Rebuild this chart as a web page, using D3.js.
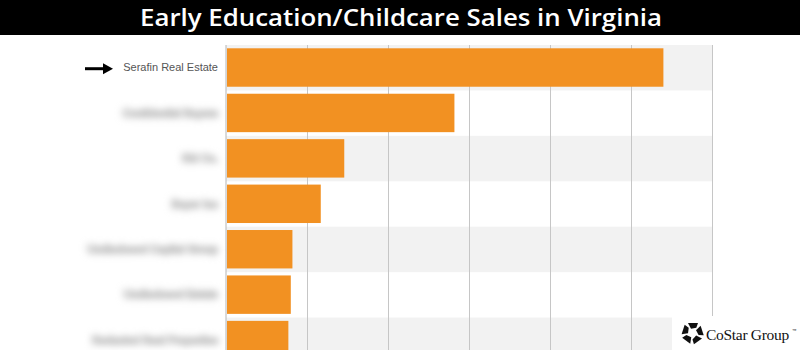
<!DOCTYPE html>
<html>
<head>
<meta charset="utf-8">
<script src="https://cdn.jsdelivr.net/npm/d3@7"></script>
<style>
  html, body { margin: 0; padding: 0; background: #fff; }
  svg { display: block; }
</style>
</head>
<body>
<svg id="chart" width="800" height="350"></svg>
<script>
const title = "Early Education/Childcare Sales in Virginia";
const categories = [
  "Serafin Real Estate",
  "Confidential Buyers",
  "Kid Co.",
  "Buyer Inc",
  "Undisclosed Capital Group",
  "Undisclosed Estate",
  "Redacted Real Properties"
];
const blurred = [false, true, true, true, true, true, true];
const values = [27.0, 14.1, 7.3, 5.85, 4.1, 4.0, 3.85];
const xTicks = [0, 5, 10, 15, 20, 25, 30];
const brand = "CoStar Group";

(function () {
const svg = d3.select("#chart");
const W = 800, H = 350;
const mLeft = 226, mRight = 712, mTop = 45, mBottom = 363;

const defs = svg.append("defs");
defs.append("filter").attr("id", "blur").attr("filterUnits", "userSpaceOnUse")
  .attr("x", -1000).attr("y", -1000).attr("width", 2000).attr("height", 2000)
  .append("feGaussianBlur").attr("stdDeviation", 3.5);

const x = d3.scaleLinear().domain([0, 30]).range([mLeft, mRight]);
const y = d3.scaleBand().domain(categories).range([mTop, mBottom]).padding(0);
const step = y.bandwidth();

// alternating background bands
svg.append("g").selectAll("rect").data(categories.filter((d, i) => i % 2 === 0)).join("rect")
  .attr("x", mLeft).attr("y", d => y(d)).attr("width", mRight - mLeft).attr("height", step)
  .attr("fill", "#f2f2f2");

// gridlines
const grid = svg.append("g").attr("transform", `translate(0,${mTop})`)
  .call(d3.axisTop(x).tickValues(xTicks.slice(1)).tickSize(-(H - mTop)).tickFormat(""));
grid.select(".domain").remove();
grid.selectAll(".tick line").attr("stroke", "#c6c6c6").attr("stroke-width", 1);

// bars
const barPad = 3.3, barH = step - 7;
svg.append("g").selectAll("rect").data(categories).join("rect")
  .attr("x", x(0) + 1).attr("y", d => y(d) + barPad)
  .attr("width", (d, i) => x(values[i]) - x(0) - 1)
  .attr("height", barH)
  .attr("fill", "#f29122");

// y axis
const yAxis = svg.append("g").attr("transform", `translate(${mLeft},0)`)
  .call(d3.axisLeft(y).tickSize(0).tickPadding(8));
yAxis.select(".domain").attr("stroke", "#b5b5b5").attr("d", `M0,${mTop}V${H}`);
yAxis.selectAll(".tick text")
  .attr("font-family", "Liberation Sans, Arial, sans-serif")
  .attr("font-size", 11)
  .attr("fill", (d, i) => blurred[i] ? "#c4c4c4" : "#555")
  .attr("stroke", (d, i) => blurred[i] ? "#c4c4c4" : null)
  .attr("stroke-width", (d, i) => blurred[i] ? 2 : null)
  .attr("filter", (d, i) => blurred[i] ? "url(#blur)" : null);

// arrow pointing to first label
const ay = y(categories[0]) + step / 2 + 1;
svg.append("line").attr("x1", 85).attr("x2", 106).attr("y1", ay).attr("y2", ay)
  .attr("stroke", "#000").attr("stroke-width", 3);
svg.append("path").attr("d", `M103,${ay - 5.5}L113,${ay}L103,${ay + 5.5}Z`).attr("fill", "#000");

// title bar
svg.append("rect").attr("x", 0).attr("y", 0).attr("width", W).attr("height", 35).attr("fill", "#000");
svg.append("text").attr("x", W / 2 + 1).attr("y", 26).attr("text-anchor", "middle")
  .attr("font-family", "Open Sans, sans-serif").attr("font-weight", 600).attr("font-size", 23)
  .attr("textLength", 522).attr("lengthAdjust", "spacingAndGlyphs")
  .attr("fill", "#fff").text(title);

// logo
const lg = svg.append("g");
lg.append("rect").attr("x", 672).attr("y", 316).attr("width", 128).attr("height", 34).attr("fill", "#fff");
const cx = 692.5, cy = 333;
const icon = lg.append("g").attr("transform", `translate(${cx},${cy})`);
d3.range(5).forEach(i => {
  icon.append("path")
    .attr("d", "M-4.5,-10 L5.5,-10 L3.8,-5.2 L-1.5,-4.2 Z")
    .attr("transform", `rotate(${i * 72})`)
    .attr("fill", "#111");
});
lg.append("text").attr("x", 706).attr("y", 340)
  .attr("font-family", "Liberation Serif, DejaVu Serif, serif").attr("font-size", 15.5)
  .attr("letter-spacing", -0.3)
  .attr("fill", "#111").text(brand);
lg.append("text").attr("x", 792).attr("y", 332)
  .attr("font-family", "Liberation Sans, sans-serif").attr("font-size", 4.5)
  .attr("fill", "#111").text("™");
})();
</script>
</body>
</html>
